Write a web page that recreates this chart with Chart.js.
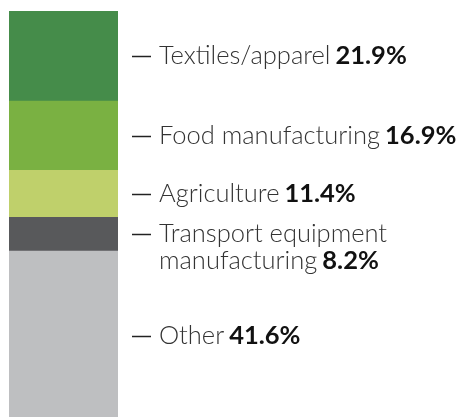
<!DOCTYPE html>
<html>
<head>
<meta charset="utf-8">
<script src="https://cdn.jsdelivr.net/npm/chart.js@4"></script>
<style>
  html, body { margin: 0; padding: 0; background: #fff; }
  #wrap { width: 457px; height: 417px; }
</style>
</head>
<body>
<div id="wrap"><canvas id="myChart"></canvas></div>
<script>
// top to bottom, as in the picture
const sectors = ['Textiles/apparel', 'Food manufacturing', 'Agriculture', 'Transport equipment manufacturing', 'Other'];
const sectorLines = [['Textiles/apparel'], ['Food manufacturing'], ['Agriculture'], ['Transport equipment', 'manufacturing'], ['Other']];
const shares = [21.9, 16.9, 11.4, 8.2, 41.6];
const colores = ['#458c4a', '#7ab142', '#bfd06b', '#58595b', '#bebfc1'];

// chart.js stacks the first dataset at the bottom, so go in reverse
var datasets = [];
for (i = sectors.length - 1; i >= 0; i--) {
  datasets.push({
    label: sectors[i],
    data: [shares[i]],
    backgroundColor: colores[i],
    borderWidth: 0,
    barPercentage: 1,
    categoryPercentage: 1
  });
}

const etiquetas = {
  id: 'etiquetas',
  afterDraw(chart) {
    const c = chart.ctx;
    c.save();
    c.textBaseline = 'middle';
    chart.data.datasets.forEach((ds, d) => {
      const idx = sectors.length - 1 - d;
      const el = chart.getDatasetMeta(d).data[0];
      const mid = Math.round((el.y + el.base) / 2);
      // dash
      c.strokeStyle = '#222';
      c.lineWidth = 1.5;
      c.beginPath();
      c.moveTo(132, mid + 0.5);
      c.lineTo(151, mid + 0.5);
      c.stroke();
      const lines = sectorLines[idx];
      lines.forEach((txt, k) => {
        const y = mid + k * 27;
        c.font = '300 25.5px Lato';
        c.fillStyle = '#333';
        c.fillText(txt, 159, y);
        if (k == lines.length - 1) {
          const w = c.measureText(txt).width + 5;
          c.font = 'bold 25.5px Lato';
          c.fillStyle = '#111';
          c.fillText(shares[idx].toFixed(1) + '%', 159 + w, y);
        }
      });
    });
    c.restore();
  }
};

const ctx = document.getElementById('myChart');
new Chart(ctx, {
  type: 'bar',
  data: {
    labels: ['share'],
    datasets: datasets
  },
  options: {
    maintainAspectRatio: false,
    responsive: true,
    animation: false,
    layout: { padding: { left: 9, top: 11, right: 339, bottom: 0 } },
    plugins: { legend: { display: false }, tooltip: { enabled: false } },
    scales: {
      x: { stacked: true, display: false },
      y: { stacked: true, display: false, min: 1.2, max: 100 }
    }
  },
  plugins: [etiquetas]
});
</script>
</body>
</html>
